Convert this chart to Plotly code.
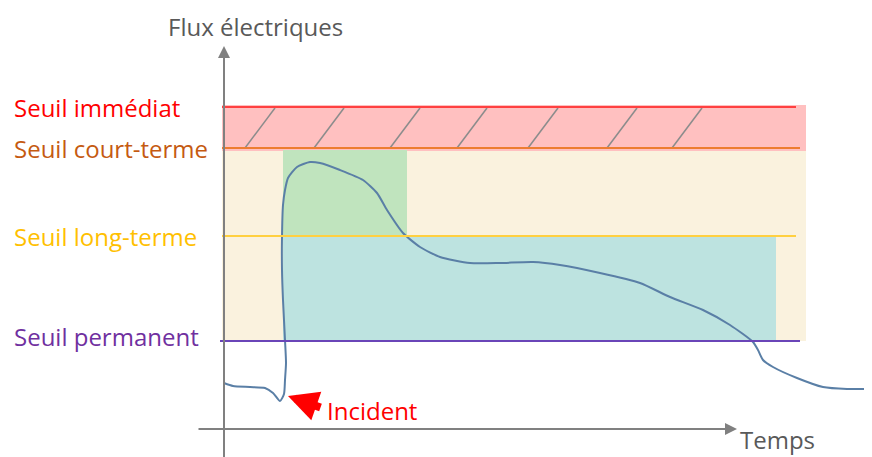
import plotly.graph_objects as go

# ---- data (time in arbitrary units from the origin, flux in arbitrary units) ----
threshold_names = ["Seuil immédiat", "Seuil court-terme", "Seuil long-terme", "Seuil permanent"]
threshold_values = [322, 281, 193, 88]
threshold_colors = ["#FF0000", "#C55A11", "#FFC000", "#7030A0"]
line_colors = ["#FF4040", "#ED7D31", "#FFD040", "#6A45B8"]

# time limits of the zones
zone_start = -2
incident_time = 59
short_term_end = 183
long_term_end = 552
zone_end = 582
line_end = [572, 576, 572, 576]

# hatch positions in the forbidden zone (bottom-left x)
hatch_x = [21, 90, 166, 233, 304, 383, 448]

# flux curve
t = [0, 9, 26, 41, 49, 56, 60, 61, 62, 61, 59, 58, 58, 59, 61, 64, 73, 86, 96, 116, 139,
     153, 163, 179, 196, 216, 246, 276, 309, 336, 376, 416, 446, 479, 506, 529, 534, 539,
     549, 573, 599, 623, 648]
flux = [46, 43, 42, 41, 36, 28, 35, 49, 66, 89, 129, 159, 192, 224, 239, 251, 262, 267, 266,
        259, 249, 236, 219, 196, 182, 172, 166, 166, 167, 164, 156, 146, 132, 119, 104, 87,
        79, 69, 62, 51, 42, 40, 40]

FONT = "Open Sans"
FS = 24

fig = go.Figure()

shapes = []
# beige band
shapes.append(dict(type="rect", xref="x", yref="y", x0=zone_start, x1=zone_end,
                   y0=threshold_values[3], y1=threshold_values[1] - 3,
                   fillcolor="#FAF2DE", line_width=0, layer="below"))
# red forbidden band
shapes.append(dict(type="rect", xref="x", yref="y", x0=zone_start, x1=zone_end,
                   y0=threshold_values[1] - 3, y1=threshold_values[0] + 2,
                   fillcolor="#FFC0C0", line_width=0, layer="below"))
# green short-term zone
shapes.append(dict(type="rect", xref="x", yref="y", x0=incident_time, x1=short_term_end,
                   y0=threshold_values[2], y1=threshold_values[1] - 2,
                   fillcolor="#C0E4BE", line_width=0, layer="below"))
# teal long-term zone
shapes.append(dict(type="rect", xref="x", yref="y", x0=incident_time, x1=long_term_end,
                   y0=threshold_values[3], y1=threshold_values[2],
                   fillcolor="#BDE3E0", line_width=0, layer="below"))
# hatches
for hx in hatch_x:
    shapes.append(dict(type="line", xref="x", yref="y", x0=hx, x1=hx + 30,
                       y0=threshold_values[1], y1=threshold_values[0] - 1,
                       line=dict(color="#8C8C8C", width=1.5)))
# threshold lines
for v, c, e in zip(threshold_values, line_colors, line_end):
    x0 = -4 if v == threshold_values[3] else zone_start
    shapes.append(dict(type="line", xref="x", yref="y", x0=x0, x1=e, y0=v, y1=v,
                       line=dict(color=c, width=2)))

fig.update_layout(shapes=shapes)

fig.add_trace(go.Scatter(x=t, y=flux, mode="lines",
                         line=dict(color="#5A7FA6", width=2, shape="spline", smoothing=0.6),
                         hoverinfo="skip", showlegend=False))

annotations = []
# axes with arrows
annotations.append(dict(x=0, y=383, ax=0, ay=-30, xref="x", yref="y", axref="x", ayref="y",
                        text="", showarrow=True, arrowhead=2, arrowsize=1.2, arrowwidth=2,
                        arrowcolor="#808080"))
annotations.append(dict(x=513, y=0, ax=-27, ay=0, xref="x", yref="y", axref="x", ayref="y",
                        text="", showarrow=True, arrowhead=2, arrowsize=1.2, arrowwidth=2,
                        arrowcolor="#808080"))
# incident arrow
annotations.append(dict(x=64, y=33, ax=98, ay=21, xref="x", yref="y", axref="x", ayref="y",
                        text="", showarrow=True, arrowhead=2, arrowsize=0.75, arrowwidth=8,
                        arrowcolor="#FF0000"))
annotations.append(dict(x=102, y=19, xref="x", yref="y", text="Incident", showarrow=False,
                        xanchor="left", yanchor="middle", borderpad=0,
                        font=dict(family=FONT, size=FS, color="#FF0000")))
# axis titles
annotations.append(dict(x=31, y=403, xref="x", yref="y", text="Flux électriques",
                        showarrow=False, xanchor="center", yanchor="middle", borderpad=0,
                        font=dict(family=FONT, size=FS, color="#595959")))
annotations.append(dict(x=553, y=-10, xref="x", yref="y", text="Temps",
                        showarrow=False, xanchor="center", yanchor="middle", borderpad=0,
                        font=dict(family=FONT, size=FS, color="#595959")))
# threshold labels
label_y = [322, 281, 193, 93]
for name, c, ly in zip(threshold_names, threshold_colors, label_y):
    annotations.append(dict(x=-211, y=ly, xref="x", yref="y", text=name, showarrow=False,
                            xanchor="left", yanchor="middle", borderpad=0,
                            font=dict(family=FONT, size=FS, color=c)))

# page body has an 8px margin: shrink the figure so it fits the window exactly
fig.update_layout(
    annotations=annotations,
    width=864, height=449,
    margin=dict(l=0, r=0, t=0, b=0),
    paper_bgcolor="white", plot_bgcolor="white",
    xaxis=dict(range=[-216, 648], visible=False, fixedrange=True),
    yaxis=dict(range=[-28, 421], visible=False, fixedrange=True),
    showlegend=False,
)

fig.write_html("out.html", config={"displayModeBar": False})
